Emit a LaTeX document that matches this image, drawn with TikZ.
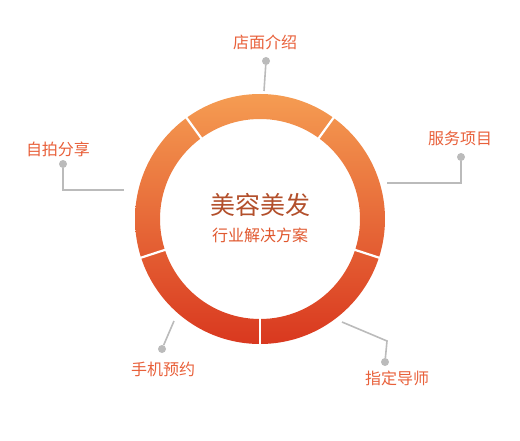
\documentclass[tikz,border=0pt]{standalone}
\usepackage{xcolor}
\usepackage{fontspec}
\usepackage{tikz}
\usetikzlibrary{shapes,arrows,positioning,calc}
\newfontfamily\cjk{Noto Sans CJK SC}
\definecolor{ringtop}{HTML}{F59C52}
\definecolor{ringbot}{HTML}{D9381F}
\definecolor{labelred}{HTML}{E8603A}
\definecolor{titlebrown}{HTML}{B3502C}
\definecolor{subred}{HTML}{E0582F}
\definecolor{dotgray}{HTML}{BBBBBB}

\begin{document}
\begin{tikzpicture}[x=1pt,y=1pt,
    lbl/.style={text=labelred, font=\cjk\fontsize{16}{19}\selectfont, inner sep=0pt},
    dot/.style={circle, fill=dotgray, inner sep=0pt, minimum size=8pt},
    conn/.style={draw=dotgray, line width=1.6pt}]
        \useasboundingbox (0,0) rectangle (520,440);
        \coordinate (c) at (260,221);
        % ring
        \shade[even odd rule, top color=ringtop, bottom color=ringbot] (c) circle (125pt) (c) circle (100pt);
        \foreach \a in {54,126,198,270,342}
            \draw[white, line width=2.2pt] (c) ++(\a:98pt) -- ++(\a:29pt);
        % centre text
        \node (title) [text=titlebrown, font=\cjk\fontsize{25}{29}\selectfont] at (260,235) {美容美发};
        \node (sub) [text=subred, font=\cjk\fontsize{16}{19}\selectfont] at (260,205) {行业解决方案};
        % labels
        \node (shop) [lbl] at (265,398) {店面介绍};
        \node (serv) [lbl] at (460,302) {服务项目};
        \node (self) [lbl] at (58,291) {自拍分享};
        \node (book) [lbl] at (163,71) {手机预约};
        \node (tutor) [lbl] at (397,62) {指定导师};
        \node (dshop) [dot] at (266,379) {};
        \node (dserv) [dot] at (461,283) {};
        \node (dself) [dot] at (63,276) {};
        \node (dbook) [dot] at (162,91) {};
        \node (dtutor) [dot] at (385,78) {};
        \coordinate (eshop) at (264,349);
        \coordinate (eserv) at (387,257);
        \coordinate (eself) at (124,250);
        \coordinate (ebook) at (174,119);
        \coordinate (ktutor) at (387,99);
        \coordinate (etutor) at (342,118);
        \draw[conn] (dshop) -- (eshop);
        \draw[conn] (dserv) |- (eserv);
        \draw[conn] (dself) |- (eself);
        \draw[conn] (dbook) -- (ebook);
        \draw[conn] (dtutor) -- (ktutor) -- (etutor);
    \end{tikzpicture}
\end{document}
